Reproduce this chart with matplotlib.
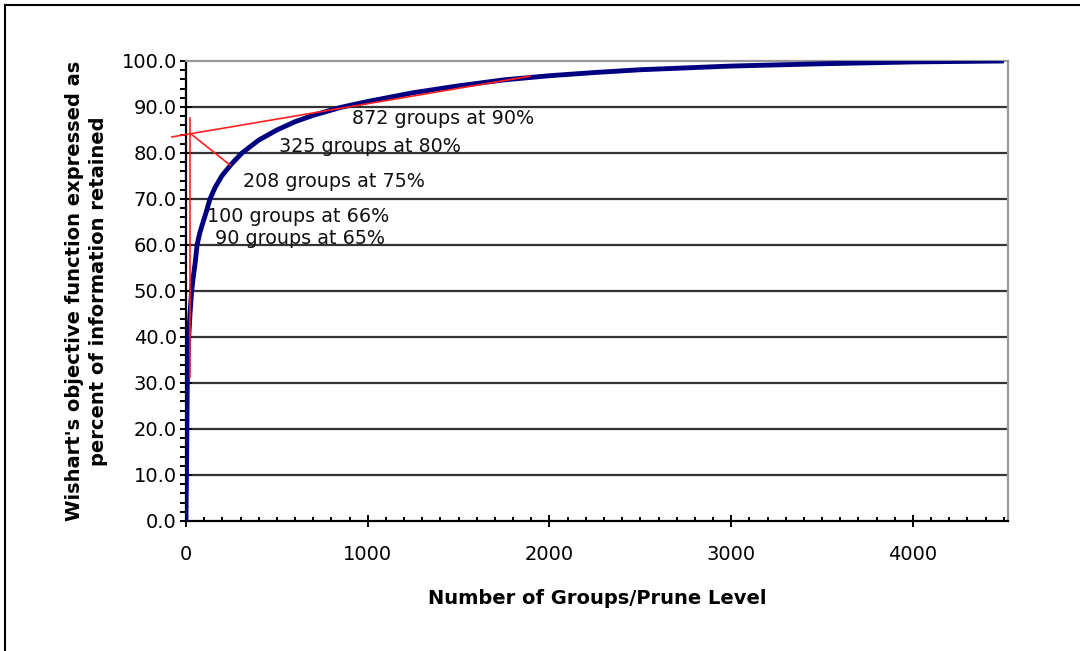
import numpy as np
import matplotlib
matplotlib.use('Agg')
import matplotlib.pyplot as plt
from matplotlib.ticker import MultipleLocator, FormatStrFormatter
from matplotlib.lines import Line2D

# Wishart curve: number of groups vs percent information retained
groups = [0, 1, 3, 5, 7, 11, 15, 22, 31, 40, 50, 61, 75, 94, 110, 132, 160, 197,
          250, 308, 400, 500, 600, 700, 850, 1000, 1250, 1500, 1750, 2000, 2250,
          2500, 3000, 3500, 4000, 4500]
pct = [0, 5, 12, 20, 30, 35, 40, 45, 50, 53, 56, 60, 62.5, 65, 67, 70, 72.5, 75,
       77.6, 80, 82.8, 85, 86.8, 88.2, 89.9, 91.2, 93.1, 94.6, 95.9, 96.8, 97.5,
       98.1, 98.9, 99.4, 99.8, 100]

# hand-drawn red guide lines (x, y pairs)
guide_vert_x = [22, 22]
guide_vert_y = [31.3, 87.6]
guide_tan_x = [-77, 1893]
guide_tan_y = [83.5, 96.7]
guide_diag_x = [22, 242]
guide_diag_y = [84.3, 77.4]

notes = ['872 groups at 90%', '325 groups at 80%', '208 groups at 75%',
         '100 groups at 66%', '90 groups at 65%']
note_x = [913, 512, 314, 116, 160]
note_y = [87.6, 81.5, 73.9, 66.3, 61.5]

plt.rcParams['font.family'] = ['DejaVu Sans']

fig = plt.figure(figsize=(10.8, 6.51), dpi=100)
ax = fig.add_axes([186 / 1080, 1 - 521 / 651, (1008 - 186) / 1080, (521 - 61) / 651])

ax.set_xlim(0, 4523)
ax.set_ylim(0, 100)

for v in range(10, 100, 10):
    ax.axhline(v, color='#333333', linewidth=1.6, zorder=1)

ax.plot(groups, pct, color='#000080', linewidth=3.5, zorder=3,
        solid_capstyle='butt', solid_joinstyle='round')

red = '#ff2020'
ax.plot(guide_vert_x, guide_vert_y, color=red, linewidth=1.2, zorder=4, clip_on=False)
ax.plot(guide_tan_x, guide_tan_y, color=red, linewidth=1.2, zorder=4, clip_on=False)
ax.plot(guide_diag_x, guide_diag_y, color=red, linewidth=1.2, zorder=4, clip_on=False)

for t, x, y in zip(notes, note_x, note_y):
    ax.text(x, y, t, fontsize=13.8, ha='left', va='center', color='#111111', zorder=5)

for s in ['left', 'bottom']:
    ax.spines[s].set_color('black')
    ax.spines[s].set_linewidth(1.6)
for s in ['top', 'right']:
    ax.spines[s].set_color('#999999')
    ax.spines[s].set_linewidth(1.6)

ax.yaxis.set_major_locator(MultipleLocator(10))
ax.yaxis.set_minor_locator(MultipleLocator(2))
ax.yaxis.set_major_formatter(FormatStrFormatter('%.1f'))
ax.xaxis.set_major_locator(MultipleLocator(1000))
ax.xaxis.set_minor_locator(MultipleLocator(100))

ax.tick_params(axis='y', which='major', direction='inout', length=9, width=1.4, labelsize=14, pad=2)
ax.tick_params(axis='y', which='minor', direction='out', length=4, width=1.4)
ax.tick_params(axis='x', which='major', direction='inout', length=9, width=1.4, labelsize=14, pad=13)
ax.tick_params(axis='x', which='minor', direction='in', length=3, width=1.4)

ax.set_xlabel('Number of Groups/Prune Level', fontsize=14, fontweight='bold', labelpad=18)
ax.set_ylabel("Wishart's objective function expressed as\npercent of information retained",
              fontsize=14, fontweight='bold', labelpad=10, linespacing=1.3)

# outer frame (left and top edges visible)
fig.add_artist(Line2D([5 / 1080, 5 / 1080], [0, 1 - 5 / 651], color='black', linewidth=1.5,
                      transform=fig.transFigure))
fig.add_artist(Line2D([5 / 1080, 1], [1 - 5 / 651, 1 - 5 / 651], color='black', linewidth=1.5,
                      transform=fig.transFigure))

fig.savefig('out.png', dpi=100)
